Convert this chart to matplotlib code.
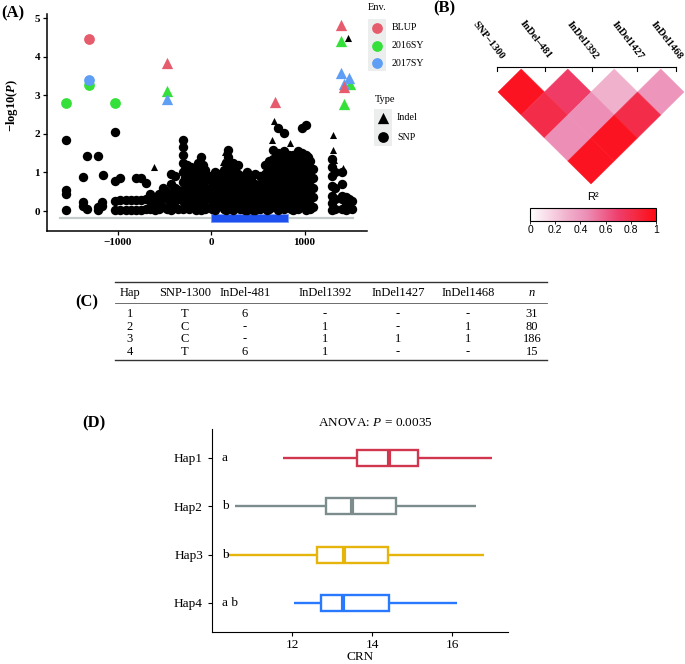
import matplotlib
matplotlib.use('Agg')
import matplotlib.pyplot as plt
import matplotlib.colorbar as mcolorbar
from matplotlib.colors import LinearSegmentedColormap, Normalize
from matplotlib.patches import Polygon, Rectangle

plt.rcParams['font.family'] = 'Liberation Serif'
plt.rcParams['mathtext.fontset'] = 'custom'
plt.rcParams['mathtext.rm'] = 'Liberation Serif'
plt.rcParams['mathtext.it'] = 'Liberation Serif:italic'
plt.rcParams['mathtext.bf'] = 'Liberation Serif:bold'
plt.rcParams['mathtext.bfit'] = 'Liberation Serif:italic:bold'

W, H = 685, 664

# ---- (A) association scan: black markers, columns of (position, [-log10 P ...])
snp_columns = [
    (-1556, [1.84, 0.54, 0.45, 0.03]),
    (-1369, [0.88, 0.23, 0.12]),
    (-1326, [1.42, 0.06]),
    (-1208, [1.42, 0.10, 0.02]),
    (-1166, [0.23, 0.12]),
    (-1155, [0.93]),
    (-1027, [2.05, 0.78, 0.25, 0.03]),
    (-973, [0.85, 0.28, 0.03]),
    (-910, [0.28, 0.03]),
    (-860, [0.28, 0.03]),
    (-800, [0.85, 0.28, 0.03]),
    (-745, [0.85, 0.28, 0.03]),
    (-700, [0.72, 0.30, 0.05]),
    (-650, [0.45, 0.25, 0.05]),
    (-600, [0.35, 0.15, 0.02]),
    (-560, [0.45, 0.20, 0.05]),
    (-510, [0.60, 0.35, 0.10]),
    (-470, [0.50, 0.30, 0.05]),
    (-430, [0.95, 0.70, 0.45, 0.20, 0.02]),
    (-390, [0.90, 0.60, 0.35, 0.10]),
    (-350, [0.55, 0.30, 0.05]),
    (-300, [1.84, 1.65, 1.45, 1.25, 1.00, 0.75, 0.50, 0.25, 0.05]),
    (-280, [1.10, 0.85, 0.60, 0.35, 0.12]),
    (-260, [1.20, 0.95, 0.70, 0.45, 0.20]),
    (-238, [1.05, 0.80, 0.55, 0.30, 0.05]),
    (-215, [1.15, 0.90, 0.65, 0.40, 0.10]),
    (-190, [0.85, 0.60, 0.35, 0.15]),
    (-165, [1.00, 0.70, 0.45, 0.20, 0.02]),
    (-135, [1.25, 1.05, 0.80, 0.55, 0.30, 0.10]),
    (-110, [1.40, 1.20, 0.95, 0.70, 0.45, 0.20, 0.03]),
    (-85, [1.20, 0.95, 0.70, 0.45, 0.20]),
    (-60, [1.05, 0.80, 0.55, 0.30, 0.05]),
    (-10, [0.90, 0.60, 0.35, 0.10]),
    (15, [0.75, 0.50, 0.25, 0.05]),
    (40, [1.00, 0.75, 0.50, 0.25, 0.03]),
    (65, [0.85, 0.60, 0.35, 0.12]),
    (90, [0.95, 0.70, 0.45, 0.20]),
    (115, [0.90, 0.65, 0.40, 0.15]),
    (140, [1.05, 0.80, 0.55, 0.30, 0.05]),
    (162, [1.25, 1.00, 0.75, 0.50, 0.25, 0.03]),
    (185, [1.58, 1.40, 1.15, 0.90, 0.60, 0.35, 0.10]),
    (210, [1.10, 0.85, 0.60, 0.35, 0.15]),
    (235, [1.25, 1.00, 0.75, 0.50, 0.25, 0.03]),
    (260, [1.05, 0.80, 0.55, 0.30, 0.10]),
    (285, [1.20, 0.95, 0.70, 0.45, 0.20]),
    (310, [0.80, 0.55, 0.30, 0.05]),
    (335, [0.90, 0.65, 0.40, 0.15]),
    (360, [0.70, 0.45, 0.25, 0.03]),
    (385, [1.00, 0.75, 0.50, 0.25, 0.03]),
    (430, [0.85, 0.60, 0.35, 0.10]),
    (452, [0.70, 0.45, 0.20, 0.03]),
    (475, [0.97, 0.70, 0.45, 0.20, 0.02]),
    (525, [0.90, 0.60, 0.30, 0.05]),
    (550, [0.75, 0.50, 0.25, 0.10]),
    (575, [1.19, 0.95, 0.70, 0.45, 0.20]),
    (598, [1.00, 0.75, 0.50, 0.25, 0.03]),
    (620, [1.30, 1.05, 0.80, 0.55, 0.30, 0.05]),
    (642, [1.20, 0.95, 0.70, 0.45, 0.20]),
    (665, [1.58, 1.35, 1.10, 0.85, 0.60, 0.35, 0.10]),
    (692, [1.40, 1.15, 0.90, 0.65, 0.40, 0.15]),
    (720, [2.14, 1.50, 1.25, 1.00, 0.75, 0.50, 0.25, 0.03]),
    (750, [1.40, 1.15, 0.90, 0.65, 0.40, 0.15]),
    (780, [2.01, 1.55, 1.30, 1.05, 0.80, 0.55, 0.30, 0.05]),
    (805, [1.35, 1.10, 0.85, 0.60, 0.35, 0.12]),
    (830, [1.45, 1.20, 0.95, 0.70, 0.45, 0.20]),
    (855, [1.30, 1.05, 0.80, 0.55, 0.30, 0.05]),
    (880, [1.45, 1.20, 0.95, 0.70, 0.45, 0.20, 0.02]),
    (905, [1.35, 1.10, 0.85, 0.60, 0.35, 0.12]),
    (930, [1.55, 1.30, 1.05, 0.80, 0.55, 0.30, 0.05]),
    (950, [1.40, 1.15, 0.90, 0.65, 0.40, 0.15]),
    (970, [2.14, 1.50, 1.25, 1.00, 0.75, 0.50, 0.25]),
    (995, [1.35, 1.10, 0.85, 0.60, 0.35, 0.10]),
    (1016, [2.23, 1.45, 1.20, 0.95, 0.70, 0.45, 0.20, 0.03]),
    (1040, [1.40, 1.15, 0.90, 0.65, 0.40, 0.15]),
    (1060, [1.30, 1.05, 0.80, 0.55, 0.30, 0.05]),
    (1094, [1.10, 0.85, 0.60, 0.35, 0.10]),
    (1295, [1.36, 1.15, 0.90, 0.65, 0.40, 0.20, 0.03]),
    (1330, [1.00, 0.60, 0.30, 0.05]),
    (1400, [1.00, 0.70, 0.40, 0.30, 0.05]),
    (1440, [0.35, 0.15, 0.03]),
    (1480, [0.30, 0.10]),
    (1510, [0.25, 0.05]),
]
indel_pos = [-606, -535, 150, 128, 652, 670, 845, 1305, 1305, 1320, 1412, 1465]
indel_logp = [1.15, 0.59, 1.53, 1.27, 1.84, 2.33, 1.75, 1.97, 1.58, 1.32, 1.11, 4.48]

# significant markers per environment
env_names = ['BLUP', '2016SY', '2017SY']
env_colors = ['#E65C6C', '#35E03A', '#5E9EF4']
blup_pos = [-1301, -474, 684, 1390, 1422]
blup_logp = [4.46, 3.83, 2.83, 4.82, 3.20]
blup_kind = ['SNP', 'Indel', 'Indel', 'Indel', 'Indel']
sy16_pos = [-1556, -1301, -1027, -474, 1390, 1487, 1422]
sy16_logp = [2.79, 3.26, 2.79, 3.12, 4.41, 3.30, 2.77]
sy16_kind = ['SNP', 'SNP', 'SNP', 'Indel', 'Indel', 'Indel', 'Indel']
sy17_pos = [-1301, -474, 1390, 1476, 1422]
sy17_logp = [3.39, 2.90, 3.58, 3.44, 3.30]
sy17_kind = ['SNP', 'Indel', 'Indel', 'Indel', 'Indel']

region_start, region_end = -1620, 1520
gene_start, gene_end = 0, 825

# ---- (B) LD (r2) between the five markers
ld_markers = ['SNP\u20131300', 'InDel\u2013481', 'InDel1392', 'InDel1427', 'InDel1468']
ld_pairs = [(0, 1), (1, 2), (2, 3), (3, 4), (0, 2), (1, 3), (2, 4), (0, 3), (1, 4), (0, 4)]
ld_r2 = [0.95, 0.72, 0.30, 0.42, 0.82, 0.45, 0.82, 0.45, 0.95, 0.95]

# ---- (C) haplotype table
table_header = ['Hap', 'SNP-1300', 'InDel-481', 'InDel1392', 'InDel1427', 'InDel1468', '$\\it{n}$']
table_rows = [
    ['1', 'T', '6', '-', '-', '-', '31'],
    ['2', 'C', '-', '1', '-', '1', '80'],
    ['3', 'C', '-', '1', '1', '1', '186'],
    ['4', 'T', '6', '1', '-', '-', '15'],
]

# ---- (D) CRN by haplotype
haps = ['Hap1', 'Hap2', 'Hap3', 'Hap4']
crn_low = [11.78, 10.58, 10.38, 12.05]
crn_q1 = [13.62, 12.85, 12.62, 12.72]
crn_med = [14.42, 13.50, 13.30, 13.27]
crn_q3 = [15.15, 14.60, 14.40, 14.43]
crn_high = [17.00, 16.60, 16.80, 16.12]
hap_letters = ['a', 'b', 'b', 'a b']
hap_colors = ['#D1364F', '#7C8B8C', '#E5B50C', '#2979FF']

fig = plt.figure(figsize=(W / 100, H / 100), dpi=100)

# overlay in pixel units for panel B, table, legends and panel letters
ax0 = fig.add_axes([0, 0, 1, 1], zorder=5)
ax0.set_xlim(0, W)
ax0.set_ylim(H, 0)
ax0.axis('off')
ax0.patch.set_alpha(0)

# ---------------- panel A
ax_a = fig.add_axes([47 / W, 1 - 231 / H, 320 / W, 217 / H])
ax_a.set_xlim(-1754, 1668)
ax_a.set_ylim(-0.518, 5.104)
ax_a.plot([region_start, region_end], [-0.19, -0.19], color='#C3CCCA', lw=1.6, zorder=1)
ax_a.add_patch(Rectangle((gene_start, -0.29), gene_end - gene_start, 0.2,
                         facecolor='#1E50F0', edgecolor='#7C9CFA', lw=0.6, zorder=2))

snp_x = [x for x, ys in snp_columns for _ in ys]
snp_y = [y for x, ys in snp_columns for y in ys]
ax_a.scatter(snp_x, snp_y, s=46, c='black', marker='o', linewidths=0, zorder=3)
ax_a.scatter(indel_pos, indel_logp, s=26, c='black', marker='^', linewidths=0, zorder=3)

env_series = [(sy16_pos, sy16_logp, sy16_kind, env_colors[1]),
              (sy17_pos, sy17_logp, sy17_kind, env_colors[2]),
              (blup_pos, blup_logp, blup_kind, env_colors[0])]
for pos, logp, kind, col in env_series:
    for x, y, k in zip(pos, logp, kind):
        if k == 'SNP':
            ax_a.scatter(x, y, s=60, c=col, marker='o', linewidths=0, zorder=4)
        else:
            ax_a.scatter(x, y, s=66, c=col, marker='^', linewidths=0, zorder=4)

ax_a.spines['top'].set_visible(False)
ax_a.spines['right'].set_visible(False)
for sp in ('left', 'bottom'):
    ax_a.spines[sp].set_linewidth(1.1)
ax_a.set_xticks([-1000, 0, 1000])
ax_a.set_xticklabels(['\u22121000', '0', '1000'])
ax_a.set_yticks([0, 1, 2, 3, 4, 5])
ax_a.tick_params(labelsize=8, length=3, width=0.9, pad=2)
for lab in ax_a.get_xticklabels() + ax_a.get_yticklabels():
    lab.set_fontweight('bold')
ax_a.set_ylabel(r'$\mathbf{-log10(}\mathbfit{P}\mathbf{)}$', fontsize=9)
ax_a.yaxis.set_label_coords(-0.085, 0.58)
ax_a.patch.set_alpha(0)

# legends for panel A
ax0.text(368, 8, 'Env.', fontsize=7.5, va='center')
ax0.add_patch(Rectangle((368, 19), 18, 52, facecolor='#ECEEEE', edgecolor='none'))
for i, (name, col) in enumerate(zip(env_names, env_colors)):
    yy = 28 + 17.5 * i
    ax0.scatter(377, yy, s=60, c=col, marker='o', linewidths=0)
    ax0.text(392, yy, name, fontsize=7.2, va='center')
ax0.text(375, 99, 'Type', fontsize=7.5, va='center')
ax0.add_patch(Rectangle((374, 109), 18, 37, facecolor='#ECEEEE', edgecolor='none'))
ax0.scatter(383, 118, s=66, c='black', marker='^', linewidths=0)
ax0.scatter(383, 137, s=60, c='black', marker='o', linewidths=0)
ax0.text(397, 118, 'Indel', fontsize=7.2, va='center')
ax0.text(397, 137, 'SNP', fontsize=7.2, va='center')

# ---------------- panel B
ld_cmap = LinearSegmentedColormap.from_list(
    'ld', [(0, '#FFFFFF'), (0.3, '#F0B0CC'), (0.45, '#EC8EB6'),
           (0.7, '#EE3E6C'), (0.85, '#F42840'), (1.0, '#FF0A14')])
mk_x = [498 + 46.5 * i for i in range(len(ld_markers))]
half_w, half_h = 23.25, 23
for (i, j), r2 in zip(ld_pairs, ld_r2):
    cx = (mk_x[i] + mk_x[j]) / 2
    cy = 69 + (j - i) * half_h
    col = ld_cmap(r2)
    ax0.add_patch(Polygon([(cx - half_w, cy), (cx, cy - half_h), (cx + half_w, cy), (cx, cy + half_h)],
                          closed=True, facecolor=col, edgecolor=col, lw=0.3))
tick_x = [497, 545, 592, 637, 676]
ax0.plot([tick_x[0], tick_x[-1]], [67, 67], color='black', lw=0.8)
for tx, name in zip(tick_x, ld_markers):
    ax0.plot([tx, tx], [67, 71], color='black', lw=0.8)
    ax0.text(tx + 5, 58, name, rotation=-52, rotation_mode='anchor', ha='right', va='center',
             fontsize=7.5, fontweight='bold')

cax = fig.add_axes([530 / W, 1 - 221 / H, 126 / W, 13 / H])
cb = mcolorbar.ColorbarBase(cax, cmap=ld_cmap, norm=Normalize(0, 1), orientation='horizontal',
                            ticks=[0, 0.2, 0.4, 0.6, 0.8, 1])
cb.set_ticklabels(['0', '0.2', '0.4', '0.6', '0.8', '1'])
cb.outline.set_linewidth(0.8)
cax.tick_params(labelsize=7.5, length=2, width=0.6, pad=1)
for lab in cax.get_xticklabels():
    lab.set_fontfamily('Liberation Sans')
ax0.text(593, 197, 'R\u00b2', fontsize=8, ha='center', va='center', fontfamily='Liberation Sans')

# ---------------- panel C (table)
col_x = [130, 185, 245, 325, 398, 468, 532]
ax0.plot([115, 547], [282, 282], color='#333333', lw=1.0)
ax0.plot([115, 547], [303, 303], color='#555555', lw=0.6)
ax0.plot([115, 547], [360, 360], color='#333333', lw=1.0)
for cx, txt in zip(col_x, table_header):
    ax0.text(cx, 293, txt, fontsize=9, ha='center', va='center')
for r, row in enumerate(table_rows):
    ry = 314 + 12.67 * r
    for cx, txt in zip(col_x, row):
        ax0.text(cx, ry, txt, fontsize=9, ha='center', va='center')

# ---------------- panel D
ax_d = fig.add_axes([212 / W, 1 - 632 / H, (508 - 212) / W, 203 / H])
ax_d.set_xlim(10.0, 17.4)
ax_d.set_ylim(4.6, 0.4)
bh = 0.165
for k, col in enumerate(hap_colors):
    y = k + 1
    ax_d.plot([crn_low[k], crn_q1[k]], [y, y], color=col, lw=1.7, solid_capstyle='butt')
    ax_d.plot([crn_q3[k], crn_high[k]], [y, y], color=col, lw=1.7, solid_capstyle='butt')
    ax_d.add_patch(Rectangle((crn_q1[k], y - bh), crn_q3[k] - crn_q1[k], 2 * bh,
                             facecolor='white', edgecolor=col, lw=1.7, zorder=3))
    ax_d.plot([crn_med[k], crn_med[k]], [y - bh, y + bh], color=col, lw=3, zorder=4,
              solid_capstyle='butt')
    ax_d.text(10.25, y, hap_letters[k], fontsize=9.5, va='center', ha='left', zorder=5)
ax_d.spines['top'].set_visible(False)
ax_d.spines['right'].set_visible(False)
ax_d.set_yticks([1, 2, 3, 4])
ax_d.set_yticklabels(haps)
ax_d.set_xticks([12, 14, 16])
ax_d.tick_params(labelsize=9.5, length=3, width=0.8)
ax_d.tick_params(axis='x', pad=2)
ax_d.set_xlabel('CRN', fontsize=9.5, labelpad=0)
ax0.text(375, 423, r'ANOVA: $\it{P}$ = 0.0035', fontsize=9.5, ha='center', va='center')

# panel letters
ax0.text(1, 13, '(A)', fontsize=12, fontweight='bold', va='center')
ax0.text(433, 8, '(B)', fontsize=12, fontweight='bold', va='center')
ax0.text(75, 302, '(C)', fontsize=12, fontweight='bold', va='center')
ax0.text(82, 423, '(D)', fontsize=12, fontweight='bold', va='center')

fig.savefig('out.png', dpi=100)
